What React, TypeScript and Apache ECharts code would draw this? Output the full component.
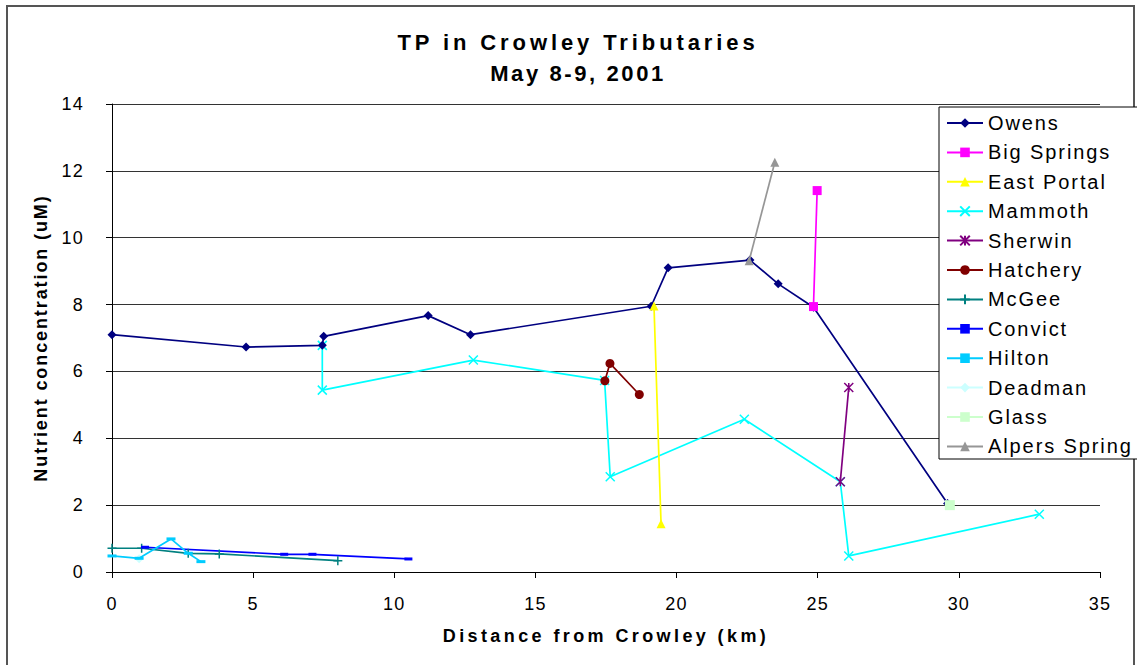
import React, { useEffect, useRef } from "react";
import * as echarts from "echarts";

const owens = [[0, 7.1], [4.75, 6.73], [7.45, 6.78], [7.5, 7.05], [11.2, 7.67], [12.7, 7.1], [19.1, 7.95], [19.7, 9.1], [22.6, 9.33], [23.6, 8.62], [24.85, 7.92], [29.6, 2.05]];
const bigSprings = [[24.85, 7.94], [24.98, 11.41]];
const eastPortal = [[19.2, 7.96], [19.45, 1.44]];
const mammoth = [[7.45, 6.78], [7.45, 5.44], [12.8, 6.34], [17.45, 5.73], [17.65, 2.85], [22.4, 4.57], [25.8, 2.7], [26.1, 0.48], [32.85, 1.73]];
const sherwin = [[25.8, 2.7], [26.1, 5.52]];
const hatchery = [[17.46, 5.72], [17.64, 6.24], [18.68, 5.31]];
const mcgee = [[0, 0.71], [1.05, 0.71], [2.7, 0.56], [3.8, 0.54], [8.0, 0.34]];
const convict = [[1.17, 0.74], [6.1, 0.53], [7.1, 0.53], [10.5, 0.39]];
const hilton = [[0, 0.48], [0.96, 0.41], [2.09, 0.99], [2.7, 0.56], [3.15, 0.31]];
const deadman = [[0.96, 0.4]];
const glass = [[29.68, 2.0]];
const alpersSpring = [[22.57, 9.31], [23.48, 12.26]];

const xTicks = { min: 0, max: 35, interval: 5 };
const yTicks = { min: 0, max: 14, interval: 2 };

const titleLine1 = "TP in Crowley Tributaries";
const titleLine2 = "May 8-9, 2001";
const xName = "Distance from Crowley (km)";
const yName = "Nutrient concentration (uM)";

const FONT = "'Liberation Sans', Arial, sans-serif";

const X_PATH = "path://M0 0L10 10M10 0L0 10";
const STAR_PATH = "path://M0 0L10 10M10 0L0 10M5 0L5 10";
const PLUS_PATH = "path://M5 0L5 10M0 5L10 5";

function mk(name: string, data: number[][], color: string, symbol: string, size: any, stroked = false, z = 2) {
  return {
    type: "line",
    name,
    data,
    symbol,
    symbolSize: size,
    showSymbol: true,
    showAllSymbol: true,
    z,
    lineStyle: { color, width: 1.7 },
    itemStyle: stroked
      ? { color, borderColor: color, borderWidth: 1.5 }
      : { color, borderWidth: 0 },
    emphasis: { disabled: true },
    animation: false,
  };
}

export default function App() {
  const ref = useRef<HTMLDivElement>(null);
  useEffect(() => {
    const el = ref.current!;
    const chart = echarts.init(el, null, { renderer: "svg" });
    const option: any = {
      animation: false,
      backgroundColor: "#fff",
      textStyle: { fontFamily: FONT },
      title: [
        {
          text: titleLine1,
          left: 573,
          top: 26,
          textAlign: "center",
          textStyle: { fontFamily: FONT, fontSize: 22, fontWeight: "bold", color: "#000" },
        },
        {
          text: titleLine2,
          left: 573,
          top: 57,
          textAlign: "center",
          textStyle: { fontFamily: FONT, fontSize: 22, fontWeight: "bold", color: "#000" },
        },
      ],
      grid: { left: 112, right: 37, top: 104, bottom: 93, containLabel: false },
      xAxis: {
        type: "value",
        ...xTicks,
        name: xName,
        nameLocation: "middle",
        nameGap: 55,
        nameTextStyle: { fontFamily: FONT, fontSize: 18, fontWeight: "bold", color: "#000" },
        axisLine: { show: true, lineStyle: { color: "#000", width: 1 } },
        axisTick: { show: true, inside: false, length: 6, lineStyle: { color: "#000" } },
        axisLabel: { fontFamily: FONT, fontSize: 18, color: "#000", margin: 23 },
        splitLine: { show: false },
      },
      yAxis: {
        type: "value",
        ...yTicks,
        name: yName,
        nameLocation: "middle",
        nameRotate: 90,
        nameGap: 62,
        nameTextStyle: { fontFamily: FONT, fontSize: 18, fontWeight: "bold", color: "#000" },
        axisLine: { show: true, lineStyle: { color: "#000", width: 1 } },
        axisTick: { show: true, inside: false, length: 6, lineStyle: { color: "#000" } },
        axisLabel: { fontFamily: FONT, fontSize: 18, color: "#000", margin: 28 },
        splitLine: { show: true, lineStyle: { color: "#333", width: 1 } },
      },
      legend: {
        orient: "vertical",
        left: 941,
        top: 108,
        itemWidth: 36,
        itemHeight: 12,
        itemGap: 9.4,
        z: 10,
        selectedMode: false,
        textStyle: { fontFamily: FONT, fontSize: 20, color: "#000", lineHeight: 20 },
      },
      graphic: [
        {
          type: "rect",
          z: 8,
          shape: { x: 939, y: 107, width: 220, height: 352 },
          style: { fill: "#fff", stroke: "#000", lineWidth: 1 },
        },
        {
          type: "rect",
          z: 0,
          shape: { x: 7, y: 6, width: 1127, height: 700 },
          style: { fill: "none", stroke: "#555", lineWidth: 2 },
        },
      ],
      series: [
        mk("Owens", owens, "#000080", "diamond", 9, false, 3),
        mk("Big Springs", bigSprings, "#FF00FF", "rect", 9, false, 4),
        mk("East Portal", eastPortal, "#FFFF00", "triangle", 9, false, 4),
        mk("Mammoth", mammoth, "#00FFFF", X_PATH, 9, true, 2),
        mk("Sherwin", sherwin, "#800080", STAR_PATH, 9, true, 4),
        mk("Hatchery", hatchery, "#800000", "circle", 9, false, 4),
        mk("McGee", mcgee, "#008080", PLUS_PATH, 9, true, 3),
        mk("Convict", convict, "#0000FF", "rect", [8, 3], false, 3),
        mk("Hilton", hilton, "#00CCFF", "rect", [9, 3], false, 3),
        mk("Deadman", deadman, "#CCFFFF", "diamond", 9, false, 2),
        mk("Glass", glass, "#CCFFCC", "rect", 10, false, 4),
        mk("Alpers Spring", alpersSpring, "#969696", "triangle", 9, false, 4),
      ],
    };
    chart.setOption(option);

    const legendNames = new Set(["Owens", "Big Springs", "East Portal", "Mammoth", "Sherwin", "Hatchery", "McGee", "Convict", "Hilton", "Deadman", "Glass", "Alpers Spring"]);
    const applySpacing = () => {
      el.querySelectorAll("text").forEach((t) => {
        const s = (t.textContent || "").trim();
        let ls: number | null = null;
        if (s === titleLine1) ls = 3.9;
        else if (s === titleLine2) ls = 2.6;
        else if (s === xName) ls = 3.4;
        else if (s === yName) ls = 1.9;
        else if (legendNames.has(s)) ls = 1.9;
        else if (/^\d+$/.test(s)) ls = 1.2;
        if (ls !== null) t.setAttribute("letter-spacing", String(ls));
      });
    };
    applySpacing();
    chart.on("finished", applySpacing);
    return () => {
      chart.dispose();
    };
  }, []);
  return (
    <div
      ref={ref}
      style={{ position: "fixed", left: 0, top: 0, width: 1137, height: 665, background: "#fff" }}
    />
  );
}
